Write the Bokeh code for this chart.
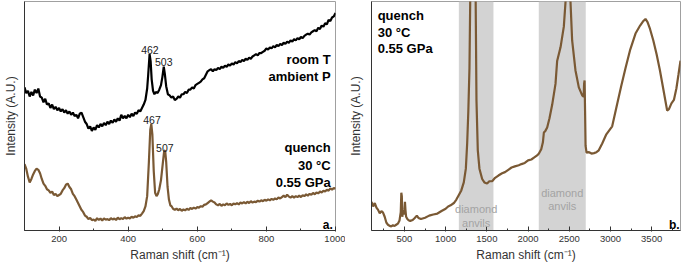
from bokeh.plotting import figure
from bokeh.layouts import row
from bokeh.models import Range1d, SingleIntervalTicker, FixedTicker, Label, BoxAnnotation
from bokeh.embed import file_html
from bokeh.resources import INLINE

# ---- data (arbitrary intensity units 0..100) ----
room_x = [100, 105, 110, 115, 120, 125, 130, 135, 140, 145, 150, 155, 160, 165, 170, 175, 180, 185, 190, 195,
          200, 205, 210, 215, 220, 225, 230, 235, 240, 245, 250, 255, 260, 265, 270, 275, 280, 285, 290, 295,
          300, 305, 310, 315, 320, 325, 330, 335, 340, 345, 350, 355, 360, 365, 370, 375, 380, 385, 390, 395,
          400, 405, 410, 415, 420, 425, 430, 435, 440, 445, 450, 455, 458, 462, 465, 468, 472, 476, 480, 485,
          490, 495, 499, 503, 506, 510, 515, 520, 525, 530, 535, 540, 545, 550, 555, 560, 565, 570, 575, 580,
          585, 590, 595, 600, 605, 610, 615, 620, 625, 630, 635, 640, 645, 650, 655, 660, 665, 670, 675, 680,
          685, 690, 695, 700, 705, 710, 715, 720, 725, 730, 735, 740, 745, 750, 755, 760, 765, 770, 775, 780,
          785, 790, 795, 800, 805, 810, 815, 820, 825, 830, 835, 840, 845, 850, 855, 860, 865, 870, 875, 880,
          885, 890, 895, 900, 905, 910, 915, 920, 925, 930, 935, 940, 945, 950, 955, 960, 965, 970, 975, 980,
          985, 990, 995, 1000]
room_y = [62.5, 60.0, 61.0, 58.5, 60.5, 59.0, 61.5, 60.0, 62.0, 58.5, 58.0, 56.0, 57.5, 55.0, 55.5, 53.5, 55.0, 53.0, 54.0, 52.5,
          53.5, 52.0, 53.0, 51.5, 52.5, 51.0, 52.0, 50.5, 51.5, 50.0, 50.5, 49.0, 51.0, 51.5, 49.5, 47.5, 46.5, 44.5, 45.5, 43.5,
          45.0, 44.0, 46.0, 45.0, 46.5, 45.5, 47.0, 46.0, 47.5, 46.5, 48.0, 47.0, 48.5, 47.5, 49.0, 48.0, 50.5, 49.0, 50.0, 49.0,
          50.5, 49.5, 51.0, 50.0, 51.5, 51.0, 52.5, 52.0, 53.5, 55.0, 57.0, 62.0, 68.0, 77.0, 74.0, 66.0, 61.0, 59.5, 60.5, 60.0,
          61.5, 63.5, 67.0, 71.5, 68.5, 63.0, 59.5, 59.0, 58.0, 58.5, 57.0, 57.5, 58.5, 58.0, 59.5, 59.5, 60.5, 60.0, 61.5, 61.5,
          62.5, 62.0, 63.5, 64.0, 64.5, 65.0, 66.0, 66.5, 68.0, 69.5, 70.0, 70.5, 69.5, 70.5, 70.0, 71.0, 70.5, 71.5, 71.0, 72.0,
          71.5, 72.5, 72.0, 73.0, 72.5, 73.5, 73.0, 74.0, 73.5, 74.5, 74.0, 75.0, 74.5, 75.5, 75.0, 76.0, 76.5, 77.0, 76.5, 77.5,
          77.5, 78.0, 78.5, 79.5, 79.0, 80.0, 79.5, 80.5, 80.0, 81.0, 80.5, 81.5, 81.0, 82.0, 81.5, 82.5, 82.0, 83.0, 82.5, 83.5,
          83.0, 84.0, 83.5, 84.5, 84.0, 85.0, 85.5, 86.0, 85.5, 86.5, 87.0, 87.5, 87.0, 88.5, 88.0, 89.5, 89.0, 90.5, 90.0, 92.0,
          91.5, 93.0, 93.5, 95.0]

quench_x = [100, 105, 110, 115, 120, 125, 130, 135, 140, 145, 150, 155, 160, 165, 170, 175, 180, 185, 190, 195,
            200, 205, 210, 215, 220, 225, 230, 235, 240, 245, 250, 255, 260, 265, 270, 275, 280, 285, 290, 295,
            300, 305, 310, 315, 320, 325, 330, 335, 340, 345, 350, 355, 360, 365, 370, 375, 380, 385, 390, 395,
            400, 405, 410, 415, 420, 425, 430, 435, 440, 445, 450, 455, 460, 464, 467, 470, 474, 478, 482, 486,
            490, 495, 500, 504, 507, 510, 514, 518, 522, 526, 530, 535, 540, 545, 550, 555, 560, 565, 570, 575,
            580, 585, 590, 595, 600, 605, 610, 615, 620, 625, 630, 635, 640, 645, 650, 655, 660, 665, 670, 675,
            680, 685, 690, 695, 700, 705, 710, 715, 720, 725, 730, 735, 740, 745, 750, 755, 760, 765, 770, 775,
            780, 785, 790, 795, 800, 805, 810, 815, 820, 825, 830, 835, 840, 845, 850, 855, 860, 865, 870, 875,
            880, 885, 890, 895, 900, 905, 910, 915, 920, 925, 930, 935, 940, 945, 950, 955, 960, 965, 970, 975,
            980, 985, 990, 995, 1000]
quench_y = [29.0, 27.0, 23.5, 21.0, 22.5, 24.5, 26.0, 27.0, 26.5, 25.0, 22.5, 20.5, 19.5, 18.0, 17.5, 16.5, 17.0, 15.5, 16.0, 15.0,
            15.5, 16.0, 17.5, 18.5, 20.0, 20.5, 19.0, 18.0, 16.0, 15.0, 13.5, 12.0, 10.5, 9.0, 8.0, 6.5, 6.0, 5.0, 5.5, 4.5,
            4.8, 4.2, 5.4, 4.6, 5.2, 4.4, 5.3, 4.7, 5.0, 4.5, 5.4, 4.8, 5.2, 4.6, 5.6, 4.9, 5.4, 5.0, 5.8, 5.2,
            5.6, 5.3, 6.0, 5.6, 6.2, 5.9, 6.6, 6.4, 7.4, 8.5, 10.5, 15.0, 30.0, 44.0, 46.5, 42.0, 26.0, 16.5, 15.0, 16.0,
            18.0, 22.0, 29.0, 34.5, 35.0, 30.0, 19.0, 13.5, 11.0, 10.5, 9.5, 9.0, 9.6, 8.8, 9.4, 8.6, 9.2, 8.8, 9.5, 9.0,
            9.8, 9.4, 10.0, 9.6, 10.2, 10.0, 10.6, 10.4, 11.2, 11.4, 12.0, 12.6, 13.2, 12.6, 12.2, 11.4, 11.0, 11.6, 10.8, 11.4,
            11.0, 11.8, 11.2, 11.6, 11.0, 11.8, 11.4, 12.0, 11.4, 12.2, 11.8, 12.4, 11.8, 12.6, 12.0, 12.8, 12.2, 12.6, 12.4, 13.0,
            12.6, 13.2, 12.8, 13.4, 13.0, 13.6, 13.2, 13.8, 13.4, 14.0, 13.6, 14.4, 14.0, 14.6, 15.2, 14.6, 15.6, 14.8, 14.4, 15.0,
            14.4, 15.0, 14.6, 15.2, 14.6, 15.4, 15.0, 15.8, 15.2, 16.0, 15.6, 16.4, 15.8, 16.6, 16.2, 17.0, 16.6, 17.4, 17.0, 17.8,
            17.4, 18.4, 17.8, 18.6, 18.2]

wide_x = [100, 120, 140, 160, 180, 200, 220, 240, 260, 280, 300, 320, 340, 360, 380, 400, 420, 440, 455, 462,
          468, 474, 480, 490, 500, 506, 512, 520, 535, 550, 570, 600, 625, 650, 670, 700, 750, 800, 850, 900,
          950, 1000, 1030, 1060, 1100, 1130, 1160, 1190, 1220, 1245, 1261, 1275, 1289, 1301, 1315, 1332, 1348, 1362, 1374, 1390,
          1410, 1443, 1470, 1503, 1530, 1564, 1600, 1640, 1685, 1720, 1760, 1800, 1840, 1887, 1920, 1960, 2000, 2040, 2080, 2110,
          2130, 2160, 2180, 2192, 2210, 2232, 2260, 2293, 2333, 2353, 2394, 2434, 2455, 2480, 2503, 2535, 2575, 2616, 2657, 2675,
          2680, 2686, 2692, 2698, 2710, 2740, 2770, 2800, 2830, 2858, 2900, 2950, 3021, 3080, 3130, 3183, 3240, 3304, 3360, 3400,
          3425, 3450, 3480, 3520, 3560, 3600, 3640, 3670, 3688, 3710, 3740, 3770, 3800, 3825, 3850]
wide_y = [12.5, 10.5, 12.0, 10.0, 9.0, 7.5, 8.5, 7.8, 6.0, 3.5, 2.5, 2.0, 1.8, 2.3, 2.0, 2.5, 3.0, 4.4, 8.0, 16.5,
          15.0, 6.0, 8.0, 7.0, 9.0, 12.5, 9.0, 6.0, 5.0, 4.5, 4.2, 4.6, 5.5, 6.5, 5.5, 5.0, 5.6, 6.5, 7.0, 7.4,
          8.5, 9.5, 10.5, 11.0, 12.0, 13.5, 15.5, 17.5, 21.0, 27.0, 38.0, 52.0, 71.0, 110.0, 180.0, 260.0, 180.0, 110.0, 56.8, 35.0,
          27.0, 22.5, 21.0, 20.5, 21.5, 21.5, 23.0, 24.0, 25.0, 25.5, 26.5, 27.5, 28.0, 28.5, 29.0, 29.5, 30.6, 31.0, 32.0, 32.8,
          33.5, 35.5, 38.5, 42.8, 43.5, 45.0, 49.0, 55.0, 64.0, 74.0, 80.0, 89.0, 100.0, 130.0, 110.0, 83.0, 70.0, 62.5, 59.0, 58.4,
          64.0, 65.5, 52.0, 37.0, 34.0, 34.2, 33.6, 33.8, 34.2, 35.0, 38.0, 42.0, 45.5, 55.0, 63.0, 71.0, 79.0, 86.0, 89.5, 91.5,
          92.4, 91.0, 88.0, 83.0, 77.0, 70.0, 62.0, 56.0, 52.4, 53.0, 55.5, 57.0, 62.0, 68.0, 74.2]

bands = [(1160, 1580), (2130, 2700)]

BROWN = "#7a5934"
FONT = "Liberation Sans"


def style(p, interval, ystandoff):
    p.outline_line_color = "#a0a0a0"
    p.outline_line_width = 1
    p.xgrid.visible = False
    p.ygrid.visible = False
    ax = p.xaxis[0]
    ax.ticker = SingleIntervalTicker(interval=interval, num_minor_ticks=2)
    ax.major_tick_in = 4
    ax.major_tick_out = 1
    ax.minor_tick_in = 2
    ax.minor_tick_out = 0
    ax.axis_line_color = "#333333"
    ax.major_tick_line_color = "#333333"
    ax.minor_tick_line_color = "#333333"
    ax.major_label_text_font = FONT
    ax.major_label_text_font_size = "9.5px"
    ax.major_label_text_color = "#333333"
    ax.major_label_standoff = 4
    ax.axis_label = "Raman shift (cm\u207b\u00b9)"
    ax.axis_label_text_font = FONT
    ax.axis_label_text_font_size = "12px"
    ax.axis_label_text_font_style = "normal"
    ax.axis_label_text_color = "#333333"
    ax.axis_label_standoff = 3
    ay = p.yaxis[0]
    ay.ticker = FixedTicker(ticks=[])
    ay.axis_line_color = "#333333"
    ay.major_tick_out = 0
    ay.major_label_text_font_size = "0px"
    ay.axis_label = "Intensity (A.U.)"
    ay.axis_label_text_font = FONT
    ay.axis_label_text_font_size = "12px"
    ay.axis_label_text_font_style = "normal"
    ay.axis_label_text_color = "#333333"
    ay.axis_label_standoff = ystandoff


def lab(p, x, y, text, size="13px", bold=True, align="right", color="black"):
    p.add_layout(Label(x=x, y=y, text=text, text_font=FONT, text_font_size=size,
                       text_font_style="bold" if bold else "normal", text_align=align,
                       text_baseline="alphabetic", text_color=color))


# ---- panel a ----
p1 = figure(width=345, height=267, x_range=Range1d(100, 1000), y_range=Range1d(0, 100),
            output_backend="svg", toolbar_location=None,
            min_border_left=0, min_border_right=10, min_border_top=1, min_border_bottom=37)
style(p1, 200, 7)
p1.line(room_x, room_y, line_color="black", line_width=2.2)
p1.line(quench_x, quench_y, line_color=BROWN, line_width=2.2)
lab(p1, 463, 79, "462", size="10.5px", bold=False, align="center", color="#222222")
lab(p1, 503, 73.4, "503", size="10.5px", bold=False, align="center", color="#222222")
lab(p1, 469, 48.2, "467", size="10.5px", bold=False, align="center", color="#222222")
lab(p1, 506, 36.2, "507", size="10.5px", bold=False, align="center", color="#222222")
lab(p1, 986, 74.6, "room T")
lab(p1, 986, 67.2, "ambient P")
lab(p1, 986, 36.4, "quench")
lab(p1, 986, 28.6, "30 \u00b0C")
lab(p1, 986, 21.0, "0.55 GPa")
lab(p1, 992, 2.2, "a.", size="12px")

# ---- panel b ----
p2 = figure(width=340, height=267, x_range=Range1d(100, 3850), y_range=Range1d(0, 100),
            output_backend="svg", toolbar_location=None,
            min_border_left=0, min_border_right=5, min_border_top=1, min_border_bottom=37)
style(p2, 500, 9)
for (b0, b1) in bands:
    p2.add_layout(BoxAnnotation(left=b0, right=b1, fill_color="#d3d3d3", fill_alpha=1.0,
                                line_alpha=0, level="underlay"))
p2.line(wide_x, wide_y, line_color=BROWN, line_width=2.2)
lab(p2, 1370, 9.6, "diamond", size="11px", bold=False, align="center", color="#a3a3a3")
lab(p2, 1370, 3.4, "anvils", size="11px", bold=False, align="center", color="#a3a3a3")
lab(p2, 2415, 16.2, "diamond", size="11px", bold=False, align="center", color="#a3a3a3")
lab(p2, 2415, 10.9, "anvils", size="11px", bold=False, align="center", color="#a3a3a3")
lab(p2, 175, 93.9, "quench", align="left")
lab(p2, 175, 86.5, "30 \u00b0C", align="left")
lab(p2, 175, 79.5, "0.55 GPa", align="left")
lab(p2, 3840, 2.2, "b.", size="12px")

layout = row(p1, p2)
open("out.html", "w").write(file_html(layout, INLINE))
